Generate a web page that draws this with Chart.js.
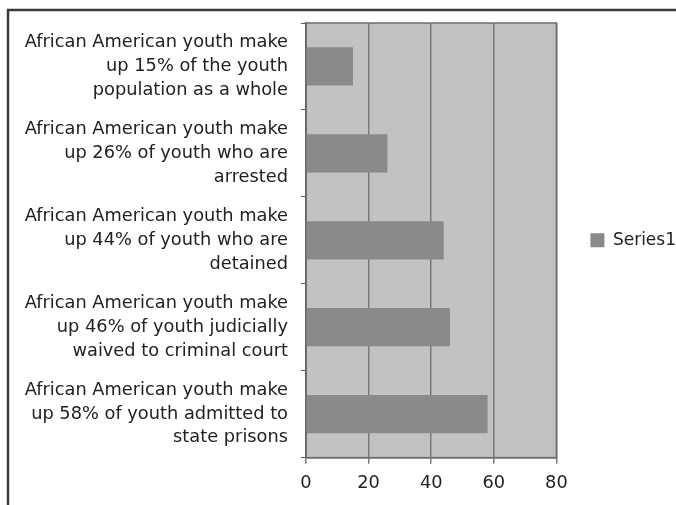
<!DOCTYPE html>
<html>
<head>
<meta charset="utf-8">
<script src="https://cdn.jsdelivr.net/npm/chart.js@4.4.1/dist/chart.umd.min.js"></script>
<style>
    html, body { margin: 0; padding: 0; background: #fff; }
    #wrap { width: 676px; height: 505px; }
</style>
</head>
<body>
<div id="wrap"><canvas id="chart" width="676" height="505"></canvas></div>
<script>
// chart data
const categories = [
    ['African American youth make', 'up 15% of the youth', 'population as a whole'],
    ['African American youth make', 'up 26% of youth who are', 'arrested'],
    ['African American youth make', 'up 44% of youth who are', 'detained'],
    ['African American youth make', 'up 46% of youth judicially', 'waived to criminal court'],
    ['African American youth make', 'up 58% of youth admitted to', 'state prisons'],
];
const seriesName = 'Series1';
const series1 = [15, 26, 44, 46, 58];
const xTicks = [0, 20, 40, 60, 80];

const FONT = { family: 'DejaVu Sans', size: 17.8 };

// grey plot area + outer frame, like the old Excel export
const plotBackground = {
    id: 'plotBackground',
    beforeDraw(chart) {
        const { ctx, chartArea: a } = chart;
        ctx.save();
        ctx.fillStyle = '#fff';
        ctx.fillRect(0, 0, chart.width, chart.height);
        ctx.strokeStyle = '#3a3a3a';
        ctx.lineWidth = 2.5;
        ctx.beginPath();
        ctx.moveTo(8, chart.height);
        ctx.lineTo(8, 10);
        ctx.lineTo(chart.width, 10);
        ctx.stroke();
        ctx.fillStyle = '#c2c2c2';
        ctx.fillRect(a.left, a.top, a.width, a.height);
        ctx.restore();
    },
    beforeDatasetsDraw(chart) {
        const { ctx, chartArea: a } = chart;
        ctx.save();
        ctx.strokeStyle = '#6e6e6e';
        ctx.lineWidth = 1.5;
        ctx.strokeRect(a.left, a.top, a.width, a.height);
        ctx.restore();
    }
};

new Chart(document.getElementById('chart').getContext('2d'), {
    type: 'bar',
    data: {
        labels: categories,
        datasets: [{
            label: seriesName,
            data: series1,
            backgroundColor: '#8a8a8a',
            borderWidth: 0,
            categoryPercentage: 1,
            barPercentage: 0.44,
        }]
    },
    options: {
        indexAxis: 'y',
        responsive: false,
        animation: false,
        devicePixelRatio: 1,
        layout: {
            padding: { left: 8, top: 23, right: -10, bottom: 2 }
        },
        plugins: {
            tooltip: { enabled: false },
            legend: {
                position: 'right',
                fullSize: false,
                labels: {
                    boxWidth: 14,
                    boxHeight: 14,
                    padding: 34,
                    color: '#222',
                    font: { family: 'DejaVu Sans', size: 17 },
                }
            }
        },
        scales: {
            x: {
                min: xTicks[0],
                max: xTicks[xTicks.length - 1],
                ticks: {
                    stepSize: xTicks[1] - xTicks[0],
                    color: '#222',
                    font: FONT,
                    padding: 9,
                },
                grid: {
                    color: '#7a7a7a',
                    lineWidth: 1.5,
                    tickLength: 6,
                },
                border: { color: '#555', width: 1.5 }
            },
            y: {
                afterFit: (scale) => {
                    scale.width = 298;
                    scale.paddingTop = 0;
                    scale.paddingBottom = 0;
                },
                ticks: {
                    color: '#222',
                    font: { ...FONT, lineHeight: 1.33 },
                    padding: 13,
                },
                grid: {
                    offset: true,
                    drawOnChartArea: false,
                    color: '#555',
                    tickLength: 5,
                },
                border: { color: '#555', width: 1.5 }
            }
        }
    },
    plugins: [plotBackground]
});
</script>
</body>
</html>
